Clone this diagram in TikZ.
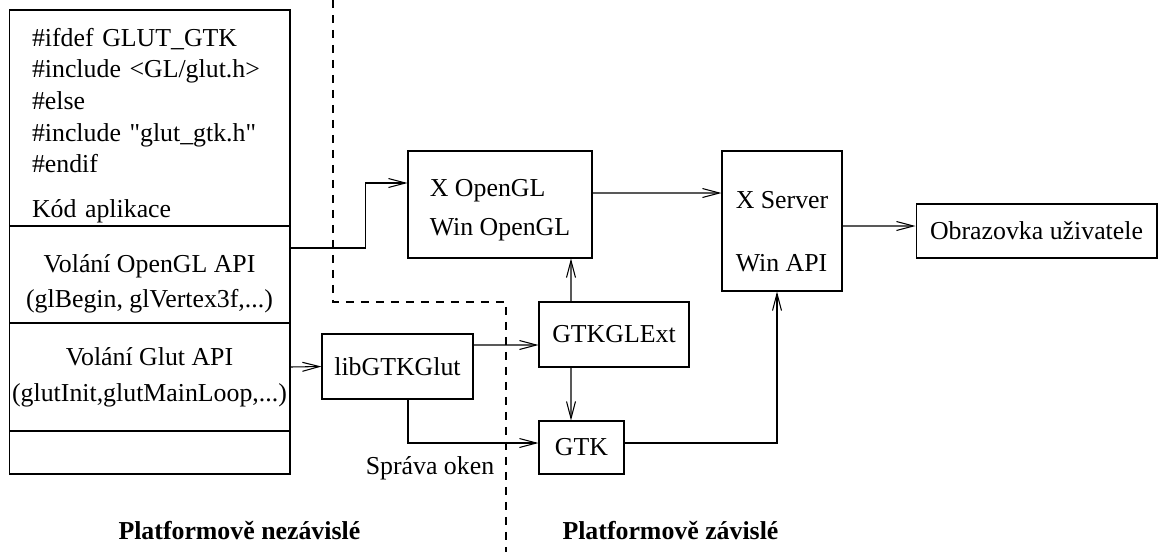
\documentclass[tikz,border=0pt]{standalone}
\usepackage{fontspec}
\setmainfont{Liberation Serif}
\usetikzlibrary{arrows.meta}

\begin{document}
\begin{tikzpicture}[x=0.02cm, y=-0.02cm, line width=0.6pt,
  font=\fontsize{14.7}{16.5}\selectfont, >={Straight Barb[length=3.4mm,width=1.8mm]},
  b/.style={draw, inner sep=1pt},
  part/.style={b, minimum width=5.62cm, align=center},
  sep/.style={dash pattern=on 1.6mm off 1.4mm},
  head/.style={anchor=west, inner sep=0pt, font=\fontsize{14.7}{17}\selectfont\bfseries}]
  \useasboundingbox (0,0) rectangle (1159,552);
  % aplikace
  \node[part, minimum height=4.32cm, align=left, text width=4.70cm,
        font=\fontsize{14.7}{18}\selectfont] (app) at (149.5,118)
    {\rule{0pt}{19pt}\#ifdef GLUT\_GTK\\ \#include <GL/glut.h>\\ \#else\\
     \#include \textquotedbl glut\_gtk.h\textquotedbl\\ \#endif\\[7.5pt] Kód aplikace};
  \node[part, minimum height=1.94cm] (gl)   at (149.5,274.5) {\rule{0pt}{21pt}Volání OpenGL API\\[3.4pt](glBegin, glVertex3f,...)};
  \node[part, minimum height=2.16cm] (glut) at (149.5,377)   {Volání Glut API\\[4pt](glutInit,glutMainLoop,...)};
  \node[part, minimum height=0.86cm] (rest) at (149.5,452.5) {};
  % knihovny
  \node[b, minimum width=3.02cm, minimum height=1.3cm]  (lib)  at (397.5,366.5) {libGTKGlut};
  \node[b, minimum width=3.68cm, minimum height=2.14cm, align=left] (ogl) at (500,204.5) {\rule{0pt}{16pt}X OpenGL\\[6pt]Win OpenGL};
  \node[b, minimum width=3cm, minimum height=1.3cm]     (ext)  at (614,334.5) {GTKGLExt};
  \node[b, minimum width=1.7cm, minimum height=1.06cm]  (gtk)  at (581.5,447.5) {GTK};
  \node[b, minimum width=2.4cm, minimum height=2.8cm, align=left] (xsrv) at (782,221) {\rule{0pt}{22pt}X Server\\[19.5pt]Win API};
  \node[b, minimum width=4.82cm, minimum height=1.08cm] (scr)  at (1036.5,231) {Obrazovka uživatele};
  % spoje
  \draw[->] ([yshift=0.53cm]gl.east) -- ++(75,0) |- ([yshift=0.43cm]ogl.west);
  \draw[->] ([yshift=0.23cm]ogl.east) -- ([yshift=0.56cm]xsrv.west);
  \draw[->] ([yshift=-0.1cm]xsrv.east) -- ([yshift=0.1cm]scr.west);
  \draw[->] ([yshift=0.2cm]glut.east) -- (lib.west);
  \draw[->] ([yshift=0.43cm]lib.east) -- ([yshift=-0.21cm]ext.west);
  \draw[->] ([xshift=-0.86cm]ext.north) -- ([xshift=1.42cm]ogl.south);
  \draw[->] ([xshift=-0.86cm]ext.south) -- ([xshift=-0.21cm]gtk.north);
  \draw[->] ([xshift=0.21cm]lib.south) |- ([yshift=0.09cm]gtk.west);
  \node (win) at (430,468) {Správa oken};
  \draw[->] ([yshift=0.09cm]gtk.east) -| ([xshift=-0.1cm]xsrv.south);
  % hranice platforem
  \draw[sep] (333,0) -- (333,302) -- (506,302) -- (506,552);
  \node[head] (ind) at (118,531) {Platformově nezávislé};
  \node[head] (dep) at (562,531) {Platformově závislé};
\end{tikzpicture}
\end{document}
